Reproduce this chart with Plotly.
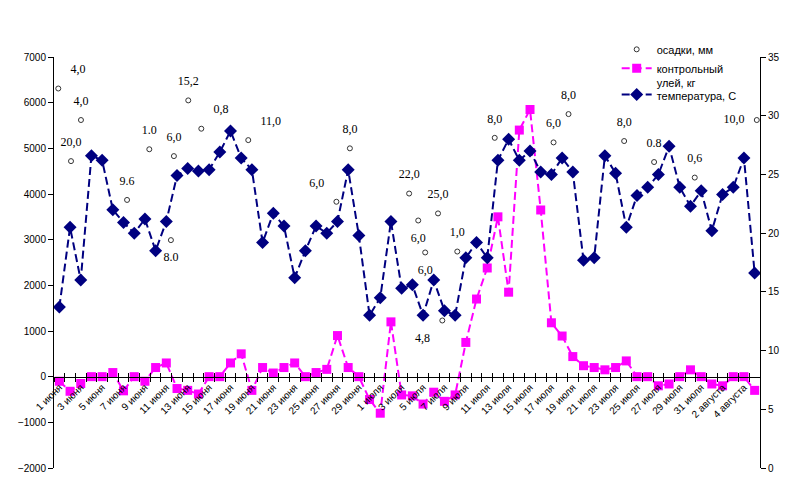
import plotly.graph_objects as go

# day labels 1 June .. 5 August
months = [("июня", 30), ("июля", 31), ("августа", 5)]
days = [f"{d} {m}" for m, n in months for d in range(1, n + 1)]
day_idx = list(range(len(days)))
# only every second day gets a label
label_idx = day_idx[::2]
label_text = days[::2]

# контрольный улей (left axis)
hive = [-100, -320, -150, 0, 0, 90, -310, 0, -100, 200,
        300, -260, -300, -380, 0, 0, 300, 500, -300, 200,
        80, 200, 300, 0, 90, 160, 900, 200, 0, -500,
        -800, 1200, -400, -420, -600, -340, -540, -400, 750, 1700,
        2380, 3500, 1850, 5400, 5850, 3650, 1180, 890, 440, 240,
        200, 150, 200, 345, 0, 0, -200, -160, 0, 150,
        0, -160, -200, 0, 0, -300]

# температура (right axis)
temp = [13.7, 20.5, 16.0, 26.6, 26.2, 22.0, 20.9, 20.0, 21.2, 18.5,
        21.0, 24.9, 25.5, 25.3, 25.4, 26.9, 28.7, 26.4, 25.4, 19.2,
        21.7, 20.6, 16.2, 18.5, 20.6, 20.0, 21.0, 25.4, 19.8, 13.0,
        14.5, 21.0, 15.3, 15.6, 13.0, 16.0, 13.4, 13.0, 17.9, 19.2,
        17.9, 26.2, 28.0, 26.2, 27.0, 25.2, 25.0, 26.4, 25.2, 17.7,
        17.9, 26.6, 25.1, 20.5, 23.2, 23.9, 25.0, 27.4, 23.9, 22.3,
        23.6, 20.2, 23.3, 23.9, 26.4, 16.6]

# осадки: marker positions and their labels
rain_x = [-0.1, 1.09, 2.02, 6.33, 8.41, 10.43, 10.71, 12.05, 13.27, 17.66,
          25.9, 27.16, 32.7, 33.55, 34.2, 35.4, 35.8, 37.2, 40.7, 46.2,
          47.6, 52.8, 55.6, 59.4, 65.2]
rain_y = [6310, 4720, 5620, 3870, 4980, 2990, 4830, 6050, 5430, 5180,
          3830, 5000, 4010, 3420, 2720, 3575, 1230, 2740, 5230, 5130,
          5750, 5160, 4700, 4360, 5620]
rain_text = ["4,0", "20,0", "4,0", "9.6", "1.0", "8.0", "6,0", "15,2", "0,8", "11,0",
             "6,0", "8,0", "22,0", "6,0", "6,0", "25,0", "4,8", "1,0", "8,0", "6,0",
             "8,0", "8,0", "0.8", "0,6", "10,0"]
rain_pos = ["top right", "top center", "top center", "top center", "top center",
            "bottom center", "top center", "top center", "top right", "top right",
            "top left", "top center", "top center", "bottom center", "bottom center",
            "top center", "bottom left", "top center", "top center", "top center",
            "top center", "top center", "top center", "top center", "middle left"]

sans = "Liberation Sans, Arial"
serif = "Liberation Serif, Times New Roman"

fig = go.Figure()

fig.add_trace(go.Scatter(
    x=rain_x, y=rain_y, mode="markers", name="осадки, мм",
    marker=dict(symbol="circle-open", size=5, color="#333333", line=dict(width=1)),
))
# labels sit on an invisible larger marker so they keep some distance
fig.add_trace(go.Scatter(
    x=rain_x, y=rain_y, mode="markers+text", text=rain_text, textposition=rain_pos,
    textfont=dict(family=serif, size=12, color="black"),
    marker=dict(size=18, color="rgba(0,0,0,0)"),
    showlegend=False, cliponaxis=False, hoverinfo="skip",
))
fig.add_trace(go.Scatter(
    x=day_idx, y=hive, mode="lines+markers", name="контрольный<br>улей, кг",
    line=dict(color="#FF00FF", width=2, dash="8px,4px"),
    marker=dict(symbol="square", size=9, color="#FF00FF"),
))
fig.add_trace(go.Scatter(
    x=day_idx, y=temp, mode="lines+markers", name="температура, С", yaxis="y2",
    legend="legend2",
    line=dict(color="#000080", width=2, dash="8px,4px"),
    marker=dict(symbol="diamond", size=10, color="#000080"),
))
# empty traces so the tick-mark axes get drawn
fig.add_trace(go.Scatter(x=[], y=[], xaxis="x2", showlegend=False, hoverinfo="skip"))
fig.add_trace(go.Scatter(x=[], y=[], xaxis="x3", showlegend=False, hoverinfo="skip"))

top = 0.9174
zero_pos = top * 2 / 9
xr = [-0.5, len(days) - 0.5]
legend_style = dict(x=0.797, xanchor="left", yanchor="top", bgcolor="rgba(0,0,0,0)",
                    font=dict(family=sans, size=11), itemwidth=30, valign="top",
                    tracegroupgap=0)

# the page body adds 8px around the plot, margins make up for it
fig.update_layout(
    width=801, height=485,
    margin=dict(l=46, r=49, t=12, b=25),
    paper_bgcolor="white", plot_bgcolor="white",
    font=dict(family=sans, size=10, color="black"),
    xaxis=dict(range=xr, anchor="free", position=zero_pos, showline=True,
               linecolor="black", linewidth=1, showgrid=False, zeroline=False,
               tickmode="array", tickvals=label_idx, ticktext=label_text,
               tickangle=-45, ticks="", tickfont=dict(family=sans, size=10),
               automargin=False),
    xaxis2=dict(range=xr, overlaying="x", anchor="free", position=zero_pos,
                showline=False, showgrid=False, zeroline=False, showticklabels=False,
                tickmode="linear", tick0=-0.5, dtick=1, ticks="outside", ticklen=4,
                tickcolor="black", automargin=False),
    xaxis3=dict(range=xr, overlaying="x", anchor="free", position=zero_pos,
                showline=False, showgrid=False, zeroline=False, showticklabels=False,
                tickmode="linear", tick0=-0.5, dtick=1, ticks="inside", ticklen=4,
                tickcolor="black", automargin=False),
    yaxis=dict(range=[-2000, 7000], dtick=1000, domain=[0, top], showline=True,
               linecolor="black", showgrid=False, zeroline=False, ticks="outside",
               ticklen=5, tickcolor="black", tickfont=dict(family=sans, size=10),
               automargin=False),
    yaxis2=dict(range=[0, 35], dtick=5, overlaying="y", side="right", anchor="x",
                showline=True, linecolor="black", showgrid=False, zeroline=False,
                ticks="outside", ticklen=5, tickcolor="black",
                tickfont=dict(family=sans, size=10), automargin=False),
    legend=dict(y=0.965, **legend_style),
    legend2=dict(y=0.864, **legend_style),
    showlegend=True,
)

fig.write_html("out.html")
